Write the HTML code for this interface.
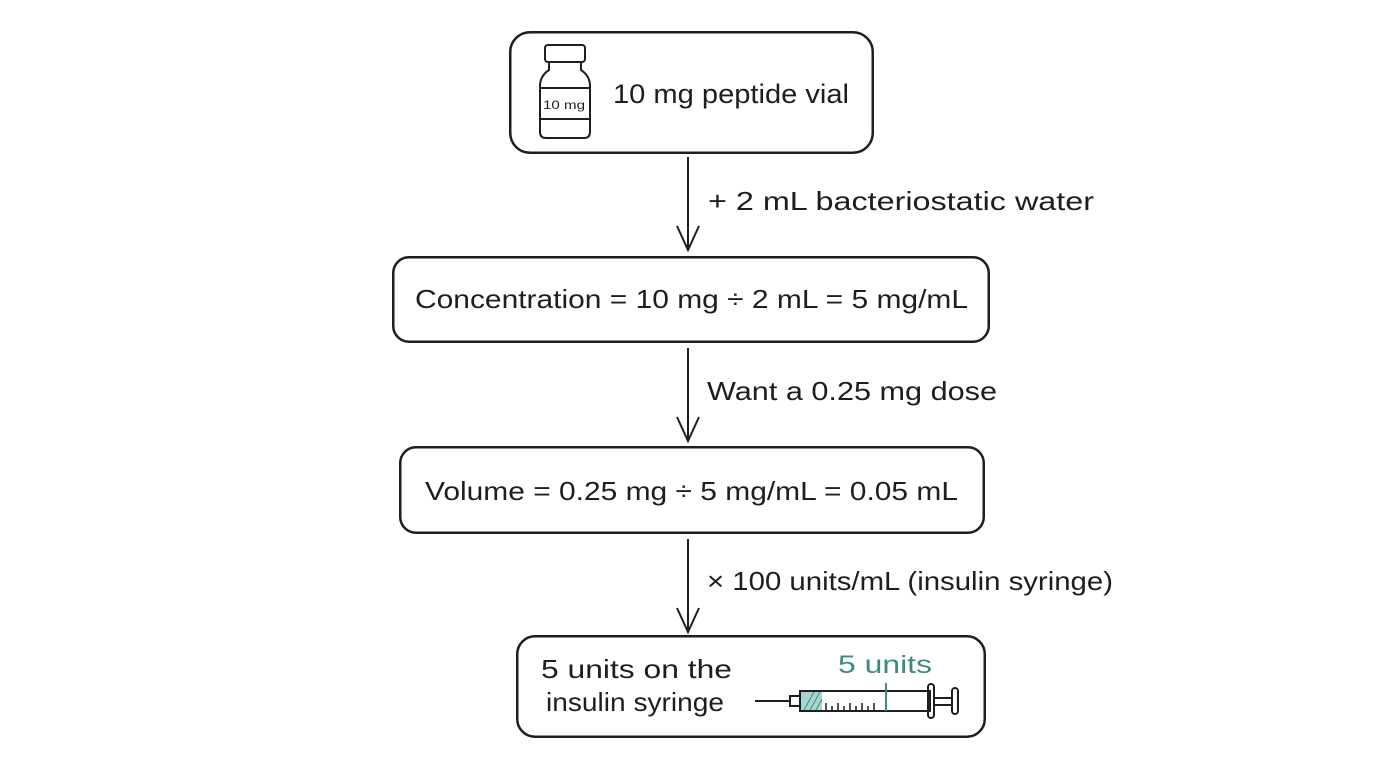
<!DOCTYPE html>
<html><head><meta charset="utf-8"><style>
html,body{margin:0;padding:0;background:#fff;}
svg{display:block;}
text{font-family:"Liberation Sans",sans-serif;fill:#1e1e1e;}
</style></head><body>
<svg width="1376" height="768" viewBox="0 0 1376 768" xmlns="http://www.w3.org/2000/svg">
<g fill="none" stroke="#1e1e1e" stroke-width="2">
<rect x="510" y="32" width="363" height="121" rx="20"/>
<rect x="511" y="33" width="361" height="119" rx="19" stroke-width="1"/>
<rect x="393" y="257" width="596" height="85" rx="16"/>
<rect x="394" y="258" width="594" height="83" rx="15" stroke-width="1"/>
<rect x="400" y="447" width="584" height="86" rx="16"/>
<rect x="401" y="448" width="582" height="84" rx="15" stroke-width="1"/>
<rect x="517" y="636" width="468" height="101" rx="18"/>
<rect x="518" y="637" width="466" height="99" rx="17" stroke-width="1"/>
<!-- arrows -->
<path d="M688 157 L688 250 M677 226 L688 250 L699 226"/>
<path d="M688 348 L688 441 M677 417 L688 441 L699 417"/>
<path d="M688 539 L688 632 M677 608 L688 632 L699 608"/>
<!-- vial -->
<rect x="545" y="45" width="40" height="17" rx="3"/>
<path d="M549 62 L549 70 Q540 76 540 86 L540 132 Q540 138 546 138 L584 138 Q590 138 590 132 L590 86 Q590 76 581 70 L581 62"/>
<line x1="540" y1="88" x2="590" y2="88"/>
<line x1="540" y1="119" x2="590" y2="119"/>
<!-- syringe -->
<line x1="755" y1="701" x2="790" y2="701"/>
<rect x="790" y="696" width="10" height="10"/>
<rect x="800" y="691" width="130" height="20"/>
<rect x="801" y="692" width="21" height="18" fill="#a8d5cf" stroke="none"/>
<path d="M804 710 L814 692 M810 710 L820 692 M816 710 L822 699" stroke="#3d8b80" stroke-width="1"/>
<path d="M826 711 v-8 M832 711 v-5 M838 711 v-8 M844 711 v-5 M850 711 v-8 M856 711 v-5 M862 711 v-8 M868 711 v-5 M874 711 v-8" stroke-width="1.5"/>
<line x1="886" y1="683" x2="886" y2="711" stroke="#3d8b80" stroke-width="2"/>
<rect x="928" y="684" width="6" height="34" rx="3"/>
<rect x="934" y="698" width="18" height="7"/>
<rect x="952" y="688" width="6" height="26" rx="3"/>
</g>
<text x="543" y="109" font-size="12" textLength="42" lengthAdjust="spacingAndGlyphs">10 mg</text>
<text x="613" y="103" font-size="27" textLength="236" lengthAdjust="spacingAndGlyphs">10 mg peptide vial</text>
<text x="708" y="210" font-size="26" textLength="386" lengthAdjust="spacingAndGlyphs">+ 2 mL bacteriostatic water</text>
<text x="415" y="308" font-size="26" textLength="553" lengthAdjust="spacingAndGlyphs">Concentration = 10 mg ÷ 2 mL = 5 mg/mL</text>
<text x="707" y="400" font-size="26" textLength="290" lengthAdjust="spacingAndGlyphs">Want a 0.25 mg dose</text>
<text x="425" y="500" font-size="26" textLength="533" lengthAdjust="spacingAndGlyphs">Volume = 0.25 mg ÷ 5 mg/mL = 0.05 mL</text>
<text x="707" y="590" font-size="26" textLength="406" lengthAdjust="spacingAndGlyphs">× 100 units/mL (insulin syringe)</text>
<text x="541" y="678" font-size="26" textLength="191" lengthAdjust="spacingAndGlyphs">5 units on the</text>
<text x="546" y="711" font-size="26" textLength="178" lengthAdjust="spacingAndGlyphs">insulin syringe</text>
<text x="838" y="673" font-size="25" style="fill:#3d8b80" textLength="94" lengthAdjust="spacingAndGlyphs">5 units</text>
</svg>
</body></html>
